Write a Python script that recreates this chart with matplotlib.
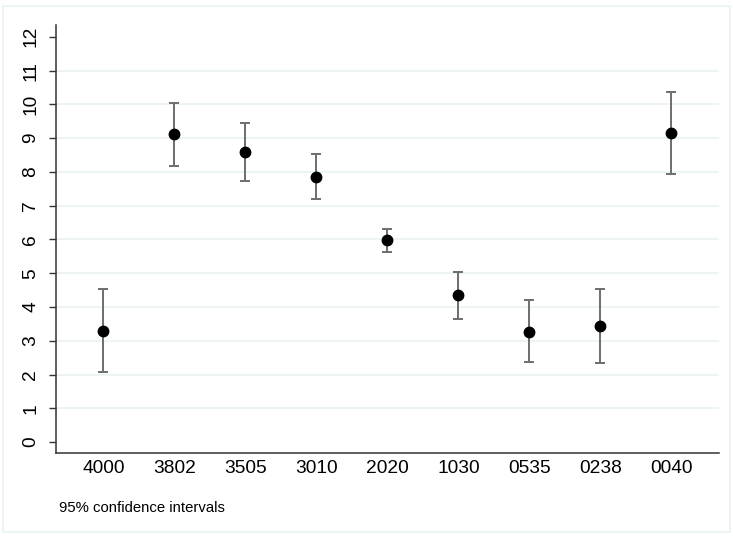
'''Point estimates with 95% confidence intervals'''
import matplotlib.pyplot as plt
from matplotlib.patches import Rectangle

# Categories and estimates
categories = ["4000", "3802", "3505", "3010", "2020", "1030", "0535", "0238", "0040"]
estimates = [3.30, 9.11, 8.60, 7.86, 5.98, 4.36, 3.27, 3.44, 9.16]
ci_lower = [2.07, 8.18, 7.74, 7.20, 5.63, 3.65, 2.36, 2.33, 7.95]
ci_upper = [4.54, 10.05, 9.46, 8.53, 6.31, 5.05, 4.20, 4.54, 10.38]
y_ticks = list(range(0, 13))
grid_levels = list(range(1, 12))

plt.rcParams['font.family'] = ['Liberation Sans', 'DejaVu Sans']

fig = plt.figure(figsize=(7.33, 5.36), dpi=100)
ax = fig.add_axes([0.0764, 0.1543, 0.9046, 0.7991])

# Light outer frame like the Stata graph region
fig.patches.append(Rectangle((3 / 733, 4 / 536), 727 / 733, 526 / 536,
                             transform=fig.transFigure, fill=False,
                             edgecolor='#eaf2f3', linewidth=1.2))

x = list(range(len(categories)))
yerr = [[e - lo for e, lo in zip(estimates, ci_lower)],
        [hi - e for e, hi in zip(estimates, ci_upper)]]

# Horizontal grid lines
for g in grid_levels:
    ax.axhline(g, color='#eaf2f3', linewidth=1.2, zorder=0)

ax.errorbar(x, estimates, yerr=yerr, fmt='none', ecolor='#6e6e6e',
            elinewidth=1.4, capsize=3.8, capthick=1.4, zorder=2)
ax.plot(x, estimates, 'o', color='black', markersize=7.5, zorder=3)

ax.set_xlim(-0.666, 8.67)
ax.set_ylim(-0.33, 12.35)
ax.set_xticks(x)
ax.set_xticklabels(categories, fontsize=13.8)
ax.set_yticks(y_ticks)
ax.set_yticklabels([str(t) for t in y_ticks], fontsize=13.8, rotation=90, va='center')

ax.tick_params(axis='x', length=0, pad=5)
ax.tick_params(axis='y', length=5, width=1, color='#333333', pad=7)

for side in ['top', 'right']:
    ax.spines[side].set_visible(False)
for side in ['left', 'bottom']:
    ax.spines[side].set_color('#333333')
    ax.spines[side].set_linewidth(1.1)

fig.text(59 / 733, 1 - 508 / 536, "95% confidence intervals", fontsize=10.7,
         va='center', ha='left')

fig.savefig("out.png", dpi=100)
